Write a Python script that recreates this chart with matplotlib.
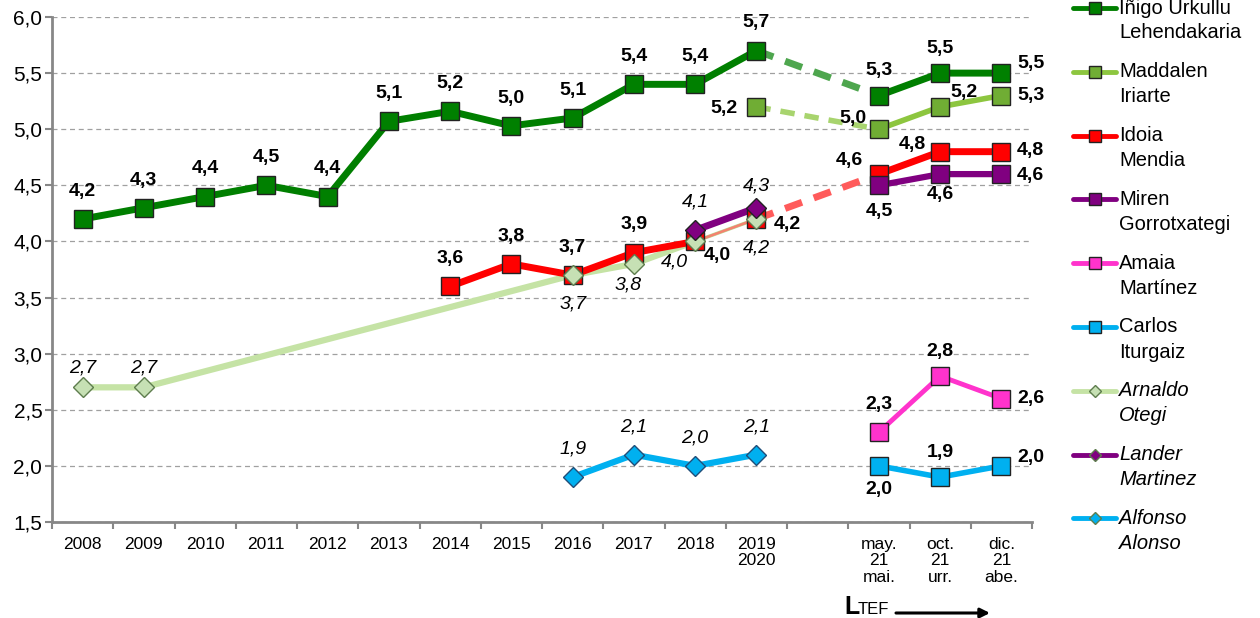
import numpy as np
import matplotlib.pyplot as plt
from matplotlib.lines import Line2D

plt.rcParams['font.family'] = ['Liberation Sans', 'DejaVu Sans']

nan = np.nan
categories = ['2008', '2009', '2010', '2011', '2012', '2013', '2014', '2015',
              '2016', '2017', '2018', '2019\n2020', '',
              'may.\n21\nmai.', 'oct.\n21\nurr.', 'dic.\n21\nabe.']
GAP = 12  # empty column between yearly data and 2021 surveys

urkullu = [4.2, 4.3, 4.4, 4.5, 4.4, 5.07, 5.16, 5.03, 5.10, 5.4, 5.4, 5.7, nan, 5.3, 5.5, 5.5]
iriarte = [nan] * 11 + [5.2, nan, 5.0, 5.2, 5.3]
mendia = [nan] * 6 + [3.6, 3.8, 3.7, 3.9, 4.0, 4.2, nan, 4.6, 4.8, 4.8]
gorrotxategi = [nan] * 13 + [4.5, 4.6, 4.6]
amaia = [nan] * 13 + [2.3, 2.8, 2.6]
iturgaiz = [nan] * 13 + [2.0, 1.9, 2.0]
otegi = [2.7, 2.7, nan, nan, nan, nan, nan, nan, 3.7, 3.8, 4.0, 4.2, nan, nan, nan, nan]
lander = [nan] * 10 + [4.1, 4.3, nan, nan, nan, nan]
alonso = [nan] * 8 + [1.9, 2.1, 2.0, 2.1, nan, nan, nan, nan]

# label offsets (points) for each existing value, in order
U, B = (0, 20), (0, -20)
off_urkullu = [U] * 12 + [(0, 18), (0, 18), (21, 7)]
off_iriarte = [(-23, -1), (-19, 8), (17, 10), (21, 0)]
off_mendia = [U, U, U, U, (16, -10), (22, -4), (-21, 10), (-20, 5), (21, 1)]
off_gorro = [(0, -19), (0, -15), (21, -1)]
off_amaia = [U, (0, 18), (21, 0)]
off_iturgaiz = [(0, -17), (0, 18), (21, 6)]
off_otegi = [(0, 14), (0, 14), (0, -21), (-4, -15), (-15, -15), (0, -21)]
off_lander = [U, (0, 16)]
off_alonso = [U, U, U, U]


def fmt(v):
    return f'{v:.1f}'.replace('.', ',')


fig = plt.figure(figsize=(12.6, 6.18), dpi=100)
ax = fig.add_axes([52 / 1260, 1 - 522 / 618, 980 / 1260, 505 / 618])
x = np.arange(len(categories))


def draw(vals, offs, color, lw, marker, ms, face, edge='#222222', dash=None,
         thin=None, italic=False, lz=2, mz=3):
    v = np.array(vals, float)
    ok = ~np.isnan(v)
    xi, vi = x[ok], v[ok]
    pre, post = xi < GAP, xi > GAP
    xp, vp = xi[pre], vi[pre]
    if thin is None:
        ax.plot(xp, vp, color=color, lw=lw, zorder=lz)
    else:
        t_idx, t_col, t_lw = thin
        a = xp <= t_idx
        ax.plot(xp[a], vp[a], color=color, lw=lw, zorder=lz)
        b = xp >= t_idx
        ax.plot(xp[b], vp[b], color=t_col, lw=t_lw, zorder=lz + 0.05)
    ax.plot(xi[post], vi[post], color=color, lw=lw, zorder=lz)
    if dash and pre.any() and post.any():
        ax.plot([xp[-1], xi[post][0]], [vp[-1], vi[post][0]], color=dash,
                lw=lw, ls=(0, (2.6, 1.8)), zorder=lz)
    ax.plot(xi, vi, ls='none', marker=marker, ms=ms, mfc=face, mec=edge,
            mew=1, zorder=mz)
    for xx, yy, (dx, dy) in zip(xi, vi, offs):
        ax.annotate(fmt(yy), (xx, yy), xytext=(dx, dy), textcoords='offset points',
                    ha='center', va='center', fontsize=14,
                    fontweight='normal' if italic else 'bold',
                    style='italic' if italic else 'normal', zorder=6)


draw(otegi, off_otegi, '#C5E3A5', 4.5, 'D', 10.5, '#C6E0B4', edge='#5E7D4E',
     thin=(10, '#B7DB93', 2.5), italic=True, lz=2.0, mz=3.1)
draw(alonso, off_alonso, '#00B0F0', 4.5, 'D', 10.5, '#00B0F0', edge='#1F4E79',
     italic=True, lz=2.0, mz=3.1)
draw(mendia, off_mendia, '#FF0000', 5, 's', 13, '#FF0000', dash='#FF5B5B',
     thin=(10, '#F4826F', 1.8), lz=2.1, mz=3.0)
draw(lander, off_lander, '#800080', 5, 'D', 10.5, '#800080', italic=True,
     lz=2.2, mz=3.2)
draw(urkullu, off_urkullu, '#007F00', 5, 's', 13, '#008000', dash='#4EA64E')
draw(iriarte, off_iriarte, '#8DC63F', 4, 's', 13, '#70AD34', dash='#A8D46E')
draw(gorrotxategi, off_gorro, '#800080', 4.5, 's', 13, '#800080')
draw(amaia, off_amaia, '#FF33CC', 3.5, 's', 13, '#FF33CC')
draw(iturgaiz, off_iturgaiz, '#00B0F0', 4, 's', 13, '#00B0F0')

# axes styling
ax.set_xlim(-0.5, len(categories) - 0.5)
ax.set_ylim(1.5, 6.0)
yt = np.arange(1.5, 6.01, 0.5)
ax.set_yticks(yt)
ax.set_yticklabels([fmt(t) for t in yt], fontsize=15)
ax.set_xticks(x)
ax.set_xticklabels(categories, fontsize=12.5, linespacing=1.1)
ax.set_xticks(np.arange(-0.5, len(categories), 1), minor=True)
ax.tick_params(axis='x', which='major', length=0, pad=11)
ax.tick_params(axis='x', which='minor', length=5, width=1.5, color='#878787')
ax.tick_params(axis='y', length=5, width=1.5, color='#878787', pad=2)
for s in ('top', 'right'):
    ax.spines[s].set_visible(False)
for s in ('left', 'bottom'):
    ax.spines[s].set_color('#878787')
    ax.spines[s].set_linewidth(2)
ax.grid(axis='y', color='#A0A0A0', lw=0.9, ls=(0, (4, 3)))
ax.set_axisbelow(True)

# TEF marker under the 2021 columns
fig.text(844 / 1260, 1 - 607 / 618, 'L', fontsize=18, fontweight='bold',
         va='center', ha='left')
fig.text(858 / 1260, 1 - 609 / 618, 'TEF', fontsize=12, va='center', ha='left')
ax.annotate('', xy=(990 / 1260, 1 - 613 / 618), xytext=(896 / 1260, 1 - 613 / 618),
            xycoords='figure fraction', textcoords='figure fraction',
            arrowprops=dict(arrowstyle='-|>', lw=2.2, color='black',
                            mutation_scale=14, shrinkA=0, shrinkB=0))

# legend drawn by hand so the handle sits on the first text line
legend = [
    (('Iñigo Urkullu', 'Lehendakaria'), '#007F00', 's', '#008000', False),
    (('Maddalen', 'Iriarte'), '#8DC63F', 's', '#70AD34', False),
    (('Idoia', 'Mendia'), '#FF0000', 's', '#FF0000', False),
    (('Miren', 'Gorrotxategi'), '#800080', 's', '#800080', False),
    (('Amaia', 'Martínez'), '#FF33CC', 's', '#FF33CC', False),
    (('Carlos', 'Iturgaiz'), '#00B0F0', 's', '#00B0F0', False),
    (('Arnaldo', 'Otegi'), '#C5E3A5', 'D', '#C6E0B4', True),
    (('Lander', 'Martinez'), '#800080', 'D', '#800080', True),
    (('Alfonso', 'Alonso'), '#00B0F0', 'D', '#00B0F0', True),
]
for i, (lines, col, mk, face, it) in enumerate(legend):
    ypx = 8 + 63.8 * i
    y = 1 - ypx / 618
    fig.add_artist(Line2D([1073 / 1260, 1116 / 1260], [y, y], transform=fig.transFigure,
                          color=col, lw=3.5, solid_capstyle='round'))
    fig.add_artist(Line2D([1094.5 / 1260], [y], transform=fig.transFigure, ls='none',
                          marker=mk, ms=9 if mk == 's' else 6.5, mfc=face,
                          mec='#222222' if mk == 's' or not it else '#5E7D4E', mew=1))
    for j, t in enumerate(lines):
        fig.text(1119 / 1260, 1 - (ypx + 25 * j) / 618, t, fontsize=14.5,
                 va='center', ha='left', style='italic' if it else 'normal')

fig.savefig('out.png', dpi=100)
